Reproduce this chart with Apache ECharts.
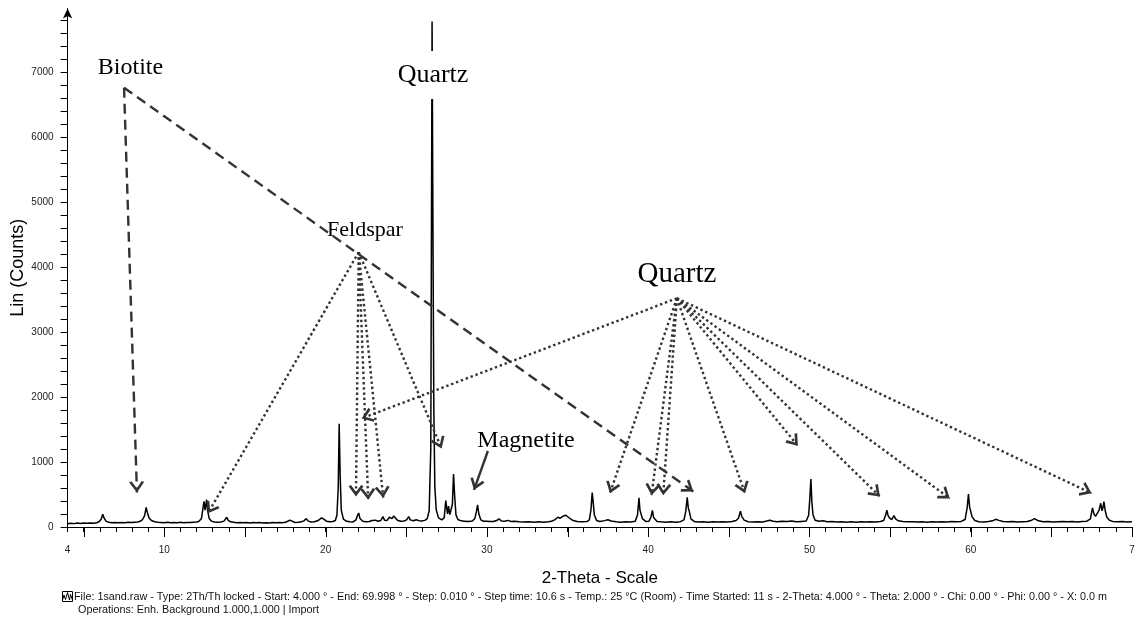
<!DOCTYPE html>
<html>
<head>
<meta charset="utf-8">
<script src="https://cdn.jsdelivr.net/npm/echarts@6/dist/echarts.min.js"></script>
<style>
  html, body { margin: 0; padding: 0; background: #fff; }
  #chart { width: 1140px; height: 619px; }
</style>
</head>
<body>
<div id="chart"></div>
<script>
// Diffraction scan: [2-theta (deg), intensity (counts)]
const scan = [
  [4.0,50],[4.2,58],[4.4,52],[4.6,60],[4.8,54],[5.0,62],[5.2,56],[5.4,60],[5.6,58],[5.8,66],
  [5.95,80],[6.08,120],[6.18,195],[6.26,140],[6.38,90],[6.55,72],[6.75,66],[6.95,70],[7.15,64],[7.35,70],
  [7.55,66],[7.75,72],[7.95,68],[8.15,74],[8.35,76],[8.5,88],[8.65,115],[8.78,180],[8.87,300],[8.95,220],
  [9.05,140],[9.2,100],[9.4,82],[9.6,74],[9.8,70],[10.0,66],[10.2,72],[10.4,64],[10.6,70],[10.8,66],
  [11.0,72],[11.2,66],[11.4,70],[11.6,68],[11.8,74],[12.0,76],[12.15,88],[12.3,130],[12.4,300],[12.46,395],
  [12.52,260],[12.57,330],[12.62,420],[12.68,260],[12.78,130],[12.92,90],[13.1,76],[13.3,72],[13.5,76],[13.7,90],
  [13.8,120],[13.87,150],[13.95,105],[14.1,80],[14.3,72],[14.5,66],[14.7,70],[14.9,64],[15.1,68],[15.3,62],
  [15.5,68],[15.7,64],[15.9,68],[16.1,62],[16.3,66],[16.5,62],[16.7,68],[16.9,64],[17.1,70],[17.3,66],
  [17.5,74],[17.65,88],[17.78,105],[17.9,84],[18.1,70],[18.3,72],[18.5,80],[18.65,95],[18.8,128],[18.92,90],
  [19.1,76],[19.3,80],[19.5,95],[19.62,125],[19.75,140],[19.88,122],[20.05,90],[20.25,80],[20.45,84],[20.6,100],
  [20.7,180],[20.78,600],[20.84,1590],[20.9,800],[20.97,260],[21.1,120],[21.3,88],[21.5,80],[21.7,78],[21.88,110],
  [21.98,180],[22.05,215],[22.13,130],[22.3,88],[22.5,80],[22.7,84],[22.88,100],[22.98,130],[23.08,105],[23.25,88],
  [23.42,100],[23.55,160],[23.65,105],[23.8,98],[23.95,150],[24.05,165],[24.12,130],[24.22,170],[24.32,140],[24.45,105],
  [24.65,88],[24.85,92],[25.02,110],[25.15,160],[25.25,110],[25.45,96],[25.62,112],[25.78,98],[25.95,92],[26.15,102],
  [26.3,130],[26.42,250],[26.52,1200],[26.6,7780],[26.66,4230],[26.71,1800],[26.77,620],[26.86,260],[27.0,140],[27.2,110],
  [27.35,140],[27.45,405],[27.51,290],[27.56,200],[27.62,320],[27.7,190],[27.78,210],[27.86,350],[27.93,815],[28.0,480],
  [28.08,190],[28.2,115],[28.4,95],[28.6,90],[28.85,84],[29.1,92],[29.25,130],[29.35,240],[29.42,340],[29.5,200],
  [29.62,110],[29.8,88],[30.0,90],[30.2,86],[30.4,84],[30.6,100],[30.75,125],[30.9,92],[31.1,88],[31.3,102],
  [31.5,86],[31.7,90],[32.0,80],[32.3,76],[32.6,82],[32.9,74],[33.2,80],[33.5,72],[33.8,80],[34.0,88],
  [34.2,110],[34.4,150],[34.55,135],[34.75,170],[34.9,180],[35.05,150],[35.3,105],[35.6,84],[35.9,80],[36.2,84],
  [36.35,110],[36.45,260],[36.53,530],[36.59,380],[36.66,190],[36.8,100],[37.0,84],[37.3,98],[37.5,112],[37.7,92],
  [38.0,80],[38.3,74],[38.6,80],[38.9,76],[39.2,90],[39.34,190],[39.43,450],[39.49,260],[39.55,290],[39.64,130],
  [39.85,86],[40.05,90],[40.17,150],[40.26,255],[40.34,145],[40.55,86],[40.8,80],[41.1,74],[41.4,80],[41.7,74],
  [42.0,82],[42.22,110],[42.33,240],[42.42,455],[42.49,290],[42.55,240],[42.65,125],[42.85,86],[43.1,78],[43.4,82],
  [43.7,74],[44.0,80],[44.3,76],[44.6,82],[44.9,78],[45.2,86],[45.45,100],[45.6,135],[45.72,245],[45.8,165],
  [45.95,105],[46.2,80],[46.5,76],[46.8,82],[47.1,78],[47.35,92],[47.55,105],[47.75,88],[48.0,80],[48.3,90],
  [48.6,84],[48.9,92],[49.2,80],[49.5,86],[49.8,92],[49.95,180],[50.02,430],[50.09,740],[50.15,380],[50.22,190],
  [50.35,105],[50.6,88],[50.85,96],[51.1,82],[51.4,84],[51.7,78],[52.0,82],[52.3,74],[52.6,80],[52.9,74],
  [53.2,80],[53.5,76],[53.8,82],[54.1,76],[54.4,84],[54.6,100],[54.73,190],[54.8,260],[54.87,180],[54.97,135],
  [55.1,115],[55.24,175],[55.34,125],[55.5,96],[55.8,84],[56.1,80],[56.4,82],[56.7,76],[57.0,80],[57.3,74],
  [57.6,80],[57.9,76],[58.2,82],[58.5,78],[58.8,84],[59.1,80],[59.4,86],[59.65,115],[59.78,300],[59.86,505],
  [59.93,310],[60.0,285],[60.08,160],[60.25,100],[60.5,82],[60.8,78],[61.1,84],[61.35,95],[61.55,118],[61.75,102],
  [62.0,86],[62.3,80],[62.6,84],[62.9,78],[63.2,82],[63.5,86],[63.78,105],[63.95,130],[64.05,115],[64.2,95],
  [64.5,82],[64.8,84],[65.1,78],[65.4,82],[65.7,86],[66.0,80],[66.3,84],[66.6,78],[66.9,84],[67.2,90],
  [67.42,125],[67.55,295],[67.64,200],[67.74,165],[67.84,160],[67.96,260],[68.06,365],[68.14,250],[68.2,300],[68.26,390],
  [68.34,250],[68.44,150],[68.6,105],[68.8,86],[69.1,80],[69.4,84],[69.7,78],[70.0,80]
];

// Axis ticks and labels
const xLabelValues = [4, 10, 20, 30, 40, 50, 60, 70];
const xMajorTicks = [5, 10, 15, 20, 25, 30, 35, 40, 45, 50, 55, 60, 65, 70];
const yLabelValues = [0, 1000, 2000, 3000, 4000, 5000, 6000, 7000];
const yTickValues = [0,200,400,600,800,1000,1200,1400,1600,1800,2000,2200,2400,2600,2800,3000,3200,3400,3600,3800,
  4000,4200,4400,4600,4800,5000,5200,5400,5600,5800,6000,6200,6400,6600,6800,7000,7200,7400,7600,7800];

// Phase annotation arrows, in data coordinates: [from, to]
const biotiteOrigin = [7.5, 6760];
const biotiteTargets = [[8.3, 530], [42.8, 545]];
const feldsparOrigin = [22.05, 4230];
const feldsparTargets = [[12.7, 210], [21.88, 470], [22.64, 420], [23.57, 450], [27.19, 1210]];
const quartzOrigin = [41.78, 3520];
const quartzTargets = [[22.23, 1670], [37.63, 520], [40.21, 490], [40.93, 490], [46.0, 520],
  [49.28, 1250], [54.37, 470], [58.7, 440], [67.49, 520]];
const magnetiteArrow = [[30.06, 1170], [29.2, 570]];

const footerLine1 = 'File: 1sand.raw - Type: 2Th/Th locked - Start: 4.000 \u00b0 - End: 69.998 \u00b0 - Step: 0.010 \u00b0 - Step time: 10.6 s - Temp.: 25 \u00b0C (Room) - Time Started: 11 s - 2-Theta: 4.000 \u00b0 - Theta: 2.000 \u00b0 - Chi: 0.00 \u00b0 - Phi: 0.00 \u00b0 - X: 0.0 m';
const footerLine2 = 'Operations: Enh. Background 1.000,1.000 | Import';

// Open chevron head; the thin sliver above puts the vertex at the symbol centre
const chevron = 'path://M5,-9 L5.001,-9 L5,0 Z M5,0 L10,8 L8.4,9 L5,3.4 L1.6,9 L0,8 Z';
const arrowColor = '#333';

function fan(origin, targets) {
  return targets.map(t => [{ coord: origin }, { coord: t }]);
}

function arrowSeries(name, lines, dash) {
  return {
    name: name,
    type: 'line',
    data: [],
    silent: true,
    markLine: {
      silent: true,
      animation: false,
      symbol: ['none', chevron],
      symbolSize: [15, 23],
      label: { show: false },
      emphasis: { disabled: true },
      lineStyle: { color: arrowColor, width: 2.4, type: dash, cap: 'butt', opacity: 1 },
      data: lines
    }
  };
}

const serif = '"Liberation Serif", "Times New Roman", serif';
const sans = '"Liberation Sans", Arial, sans-serif';

const chart = echarts.init(document.getElementById('chart'));
chart.setOption({
  animation: false,
  backgroundColor: '#fff',
  grid: { left: 67.6, right: 8, top: 8.5, bottom: 92, containLabel: false, outerBoundsMode: 'none' },
  xAxis: {
    type: 'value', min: 4, max: 70, interval: 1,
    name: '2-Theta - Scale', nameLocation: 'middle', nameGap: 43, nameMoveOverlap: false,
    nameTextStyle: { fontSize: 17, color: '#000', fontFamily: sans },
    axisLine: { show: true, onZero: false, lineStyle: { color: '#000', width: 1 } },
    axisTick: { show: true, length: 5, lineStyle: { color: '#000' } },
    axisLabel: {
      customValues: xLabelValues, margin: 18, fontSize: 10, color: '#222', fontFamily: sans,
      formatter: v => (v === 70 ? '7' : String(v))
    },
    splitLine: { show: false }
  },
  yAxis: {
    type: 'value', min: 0, max: 7980,
    name: 'Lin (Counts)', nameLocation: 'middle', nameGap: 41, nameRotate: 90, nameMoveOverlap: false,
    nameTextStyle: { fontSize: 18, color: '#000', fontFamily: sans },
    axisLine: { show: true, onZero: false, symbol: ['none', 'arrow'], symbolSize: [7, 10], lineStyle: { color: '#000', width: 1 } },
    axisTick: { show: true, customValues: yTickValues, length: 7, lineStyle: { color: '#000' } },
    axisLabel: { customValues: yLabelValues, margin: 14, fontSize: 10, color: '#222', fontFamily: sans,
      formatter: v => String(v) },
    splitLine: { show: false }
  },
  series: [
    {
      name: 'scan',
      type: 'line',
      data: scan,
      showSymbol: false,
      symbol: 'none',
      silent: true,
      z: 2,
      lineStyle: { color: '#000', width: 1.5 }
    },
    arrowSeries('Biotite', fan(biotiteOrigin, biotiteTargets), [10, 6]),
    arrowSeries('Feldspar', fan(feldsparOrigin, feldsparTargets), [2.4, 2.8]),
    arrowSeries('Quartz', fan(quartzOrigin, quartzTargets), [2.4, 2.8]),
    arrowSeries('Magnetite', [[{ coord: magnetiteArrow[0] }, { coord: magnetiteArrow[1] }]], 'solid')
  ],
  graphic: [
    { type: 'text', z: 100, style: { x: 433, y: 75, text: 'Quartz', font: '26px ' + serif, fill: '#000',
      align: 'center', verticalAlign: 'middle', backgroundColor: '#fff', padding: [11, 1] } },
    { type: 'text', z: 100, style: { x: 130.5, y: 68, text: 'Biotite', font: '24px ' + serif, fill: '#000',
      align: 'center', verticalAlign: 'middle' } },
    { type: 'text', z: 100, style: { x: 365, y: 230, text: 'Feldspar', font: '22px ' + serif, fill: '#000',
      align: 'center', verticalAlign: 'middle' } },
    { type: 'text', z: 100, style: { x: 677, y: 274, text: 'Quartz', font: '29px ' + serif, fill: '#000',
      align: 'center', verticalAlign: 'middle' } },
    { type: 'text', z: 100, style: { x: 526, y: 441, text: 'Magnetite', font: '24px ' + serif, fill: '#000',
      align: 'center', verticalAlign: 'middle' } },
    // scan-type icon in front of the file line
    { type: 'rect', z: 100, shape: { x: 62.5, y: 591.5, width: 10, height: 10 },
      style: { fill: 'none', stroke: '#000', lineWidth: 1 } },
    { type: 'polyline', z: 100, shape: { points: [[62.5, 600], [64, 595], [65.5, 599.5], [67.5, 592.5], [69.5, 600], [70.5, 594.5], [72.5, 600]] },
      style: { fill: 'none', stroke: '#000', lineWidth: 1 } },
    { type: 'text', z: 100, style: { x: 74, y: 597, text: footerLine1, font: '10.8px ' + sans, fill: '#111',
      align: 'left', verticalAlign: 'middle' } },
    { type: 'text', z: 100, style: { x: 78, y: 610, text: footerLine2, font: '10.8px ' + sans, fill: '#111',
      align: 'left', verticalAlign: 'middle' } }
  ]
});

// Longer ticks every 5 degrees, placed through the x axis scale
const axisY = chart.convertToPixel({ yAxisIndex: 0 }, 0);
chart.setOption({
  graphic: xMajorTicks.map((v, i) => {
    const px = Math.round(chart.convertToPixel({ xAxisIndex: 0 }, v)) + 0.5;
    return { id: 'majorTick' + i, type: 'line', z: 50,
      shape: { x1: px, y1: axisY, x2: px, y2: axisY + 10 },
      style: { stroke: '#000', lineWidth: 1 } };
  })
});
</script>
</body>
</html>
